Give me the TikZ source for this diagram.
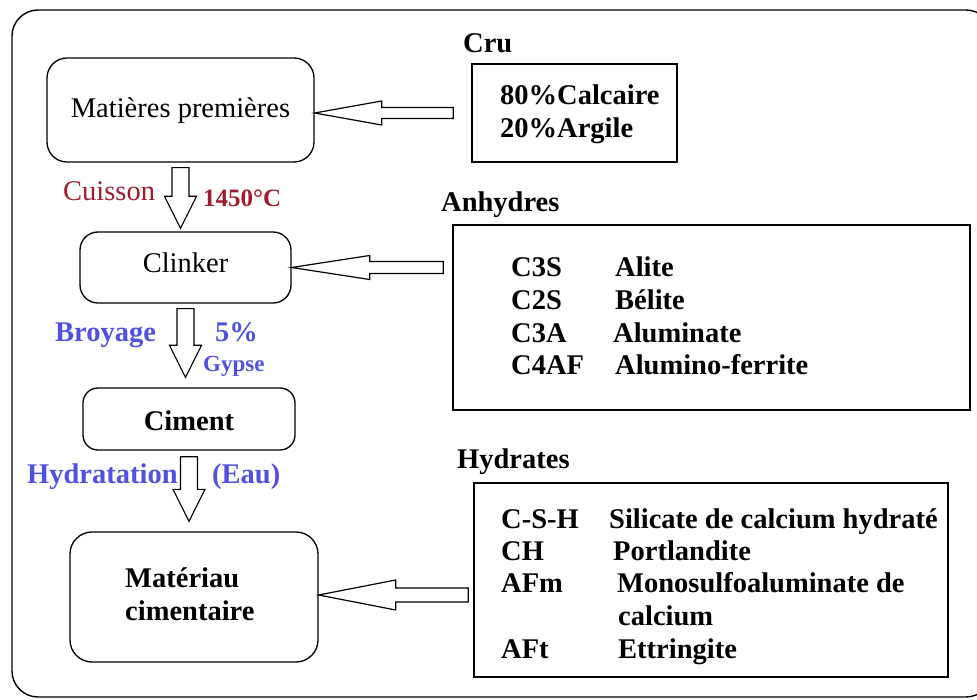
\documentclass[tikz,border=0pt]{standalone}
\usepackage{fontspec}
\setmainfont{Liberation Serif}
\usetikzlibrary{calc}
\definecolor{dred}{RGB}{160,28,44}
\definecolor{pblue}{RGB}{80,80,225}
% vertical block arrow: #1 top point, #2 tip point
\newcommand{\varrow}[2]{%
  \draw[blockarrow] let \p1=(#1), \p2=(#2) in
    (\x1-8.5pt,\y1) -- (\x1-8.5pt,\y2+32pt) -- (\x1-16pt,\y2+32pt) -- (\x1,\y2)
    -- (\x1+16pt,\y2+32pt) -- (\x1+8.5pt,\y2+32pt) -- (\x1+8.5pt,\y1) -- cycle;}
% horizontal block arrow: #1 tail point, #2 tip point, #3 shaft half, #4 head half, #5 head length
\newcommand{\harrow}[5]{%
  \draw[blockarrow] let \p1=(#1), \p2=(#2) in
    (\x1,\y2+#3pt) -- (\x2+#5pt,\y2+#3pt) -- (\x2+#5pt,\y2+#4pt) -- (\x2,\y2)
    -- (\x2+#5pt,\y2-#4pt) -- (\x2+#5pt,\y2-#3pt) -- (\x1,\y2-#3pt) -- cycle;}
\begin{document}
\begin{tikzpicture}[x=1pt,y=-1pt,
  rbox/.style={draw, line width=1.3pt, rounded corners=#1, inner sep=0pt},
  rbox/.default=18pt,
  sbox/.style={draw, line width=1.6pt, inner sep=0pt},
  bf/.style={font=\bfseries\fontsize{28.5}{33}\selectfont},
  rm/.style={font=\fontsize{28.5}{33}\selectfont},
  blockarrow/.style={draw, line width=1.2pt, fill=white, line join=miter},
  lbl/.style={anchor=base west, inner sep=0pt}]
\useasboundingbox (0,0) rectangle (977,700);
\begin{scope}
  \clip (0,0) rectangle (977,700);
  \draw[line width=1.4pt, rounded corners=26pt] (12,10) rectangle (992,697);
\end{scope}

% left column boxes
\node[rbox=20pt, rm, minimum width=267pt, minimum height=104pt, text height=21pt, text depth=5pt]
  (mp) at (180.5,110) {Matières premières};
\node[rbox=18pt, rm, minimum width=211pt, minimum height=71pt, text height=17pt, text depth=6pt]
  (clk) at (185.5,267.5) {Clinker};
\node[rbox=15pt, bf, minimum width=212pt, minimum height=62pt, text height=26pt, text depth=4pt]
  (cim) at (189,419) {Ciment};
\node[rbox=22pt, minimum width=248pt, minimum height=130pt] (mat) at (194,597) {};
\node[lbl, bf] (mat1) at (125,587) {Matériau};
\node[lbl, bf] (mat2) at (125,620) {cimentaire};

% right boxes
\node[sbox, minimum width=205pt, minimum height=98pt] (cru) at (574.5,113) {};
\node[sbox, minimum width=517pt, minimum height=185pt] (anh) at (711.5,317.5) {};
\node[sbox, minimum width=474pt, minimum height=194pt] (hyd) at (711,580) {};

% titles
\node[lbl, bf] (tcru) at (463,53) {Cru};
\node[lbl, bf] (tanh) at (441,212) {Anhydres};
\node[lbl, bf] (thyd) at (457,468) {Hydrates};

% Cru content
\node[lbl, bf] (c1) at (500,105) {80\%Calcaire};
\node[lbl, bf] (c2) at (500,138) {20\%Argile};

% Anhydres content
\node[lbl, bf] (a1) at (511,277) {C3S};
\node[lbl, bf] (a1b) at (615,277) {Alite};
\node[lbl, bf] (a2) at (511,310) {C2S};
\node[lbl, bf] (a2b) at (615,310) {Bélite};
\node[lbl, bf] (a3) at (511,343) {C3A};
\node[lbl, bf] (a3b) at (613,343) {Aluminate};
\node[lbl, bf] (a4) at (511,375) {C4AF};
\node[lbl, bf] (a4b) at (615,375) {Alumino-ferrite};

% Hydrates content
\node[lbl, bf] (h1) at (501,528) {C-S-H};
\node[lbl, bf] (h1b) at (609,528) {Silicate de calcium hydraté};
\node[lbl, bf] (h2) at (501,560) {CH};
\node[lbl, bf] (h2b) at (613,560) {Portlandite};
\node[lbl, bf] (h3) at (501,592) {AFm};
\node[lbl, bf] (h3b) at (617,592) {Monosulfoaluminate de};
\node[lbl, bf] (h3c) at (618,625) {calcium};
\node[lbl, bf] (h4) at (501,658) {AFt};
\node[lbl, bf] (h4b) at (618,658) {Ettringite};

% step labels
\node[lbl, rm, text=dred] (lcuis) at (63,201) {Cuisson};
\node[lbl, text=dred, font=\bfseries\fontsize{25}{29}\selectfont] (ltemp) at (203,207) {1450°C};
\node[lbl, bf, text=pblue] (lbroy) at (55,342) {Broyage};
\node[lbl, bf, text=pblue] (lpct) at (215,342) {5\%};
\node[lbl, text=pblue, font=\bfseries\fontsize{23}{27}\selectfont] (lgyp) at (203,372) {Gypse};
\node[lbl, bf, text=pblue] (lhyd) at (27,483) {Hydratation};
\node[lbl, bf, text=pblue] (leau) at (212,483) {(Eau)};

% vertical block arrows
\varrow{$(mp.south)+(0,5)$}{$(clk.north)+(0,-3)$}
\varrow{$(clk.south)+(0,5)$}{$(cim.north)+(0,-10)$}
\varrow{$(cim.south)+(0,6)$}{$(mat.north)+(0,-10)$}

% horizontal block arrows
\harrow{$(cru.west)+(-18,0)$}{$(mp.east)+(0,3)$}{5.5}{12}{67}
\harrow{$(anh.west)+(-9,0)$}{clk.east}{6}{12}{78}
\harrow{$(hyd.west)+(-5,0)$}{$(mat.east)+(0,-2)$}{7}{15}{77}
\end{tikzpicture}
\end{document}
